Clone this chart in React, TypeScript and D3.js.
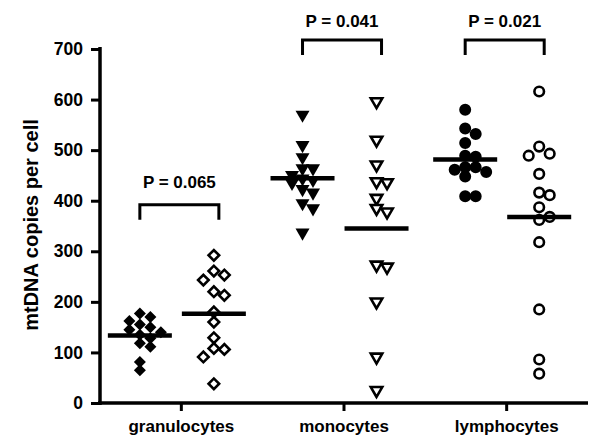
import React, { useEffect, useRef } from "react";
import * as d3 from "d3";

const categories = ["granulocytes", "monocytes", "lymphocytes"];
const pLabels = ["P = 0.065", "P = 0.041", "P = 0.021"];
const yTicks = [0, 100, 200, 300, 400, 500, 600, 700];

// filled (left) and open (right) series per cell type
const granulocytesFilled = [177, 170, 162, 155, 150, 145, 140, 135, 128, 118, 111, 81, 65];
const granulocytesOpen = [292, 261, 253, 243, 220, 213, 180, 160, 129, 108, 106, 91, 38];
const monocytesFilled = [570, 510, 486, 464, 464, 451, 444, 441, 435, 423, 416, 395, 385, 337];
const monocytesOpen = [596, 520, 471, 438, 436, 405, 385, 378, 273, 269, 200, 91, 25];
const lymphocytesFilled = [580, 543, 532, 514, 489, 487, 466, 466, 461, 457, 448, 409, 409];
const lymphocytesOpen = [616, 507, 493, 489, 453, 416, 411, 387, 368, 362, 318, 185, 86, 58];

const filledSeries = [granulocytesFilled, monocytesFilled, lymphocytesFilled];
const openSeries = [granulocytesOpen, monocytesOpen, lymphocytesOpen];

const FONT = "'Liberation Sans', Arial, sans-serif";

// simple column-scatter placement: spread colliding points sideways
function swarm(values: number[], y: (v: number) => number, cx: number, step: number, minDist: number) {
  const placed: [number, number][] = [];
  const sorted = values.slice().sort((a, b) => b - a);
  const offsets = [0, 1, -1, 2, -2, 3, -3];
  sorted.forEach((v) => {
    const py = y(v);
    let px = cx;
    for (const k of offsets) {
      const tx = cx + k * step;
      if (placed.every((p) => Math.hypot(p[0] - tx, p[1] - py) >= minDist)) {
        px = tx;
        break;
      }
    }
    placed.push([px, py]);
  });
  return placed;
}

export default function App() {
  const ref = useRef<SVGSVGElement>(null);

  useEffect(() => {
    const svg = d3.select(ref.current);
    svg.selectAll("*").remove();

    const width = 600;
    const height = 446;
    svg.append("rect").attr("width", width).attr("height", height).attr("fill", "#fff");

    const y = d3.scaleLinear().domain([0, 700]).range([403, 49]);
    const x = d3.scaleBand().domain(categories).range([100, 588]).padding(0);
    const sub = d3.scalePoint().domain(["filled", "open"]).range([x.bandwidth() * 0.245, x.bandwidth() * 0.7]);

    // y axis
    const yAxis = svg.append("g")
      .attr("transform", "translate(100,0)")
      .call(d3.axisLeft(y).tickValues(yTicks).tickSize(9).tickSizeOuter(0).tickPadding(8));
    yAxis.select(".domain").attr("stroke", "#000").attr("stroke-width", 3.5).attr("d", "M0,47V405");
    yAxis.selectAll(".tick line").attr("stroke", "#000").attr("stroke-width", 3);
    yAxis.selectAll(".tick text")
      .attr("fill", "#000")
      .style("font", `bold 17.5px ${FONT}`);

    // x axis
    const xAxis = svg.append("g")
      .attr("transform", "translate(0,403)")
      .call(d3.axisBottom(x).tickSize(8).tickSizeOuter(0).tickPadding(9));
    xAxis.select(".domain").attr("stroke", "#000").attr("stroke-width", 3.5).attr("d", "M98,0H588");
    xAxis.selectAll(".tick line").attr("stroke", "#000").attr("stroke-width", 3);
    xAxis.selectAll(".tick text")
      .attr("fill", "#000")
      .style("font", `bold 17px ${FONT}`);

    // y title
    svg.append("text")
      .attr("transform", "translate(31,225) rotate(-90)")
      .attr("text-anchor", "middle")
      .attr("dominant-baseline", "central")
      .style("font", `bold 20px ${FONT}`)
      .text("mtDNA copies per cell");

    const symbols = [d3.symbolSquare, d3.symbolTriangle, d3.symbolCircle];
    const filledSize = [72, 85, 113];
    const openSize = [56, 57, 72];
    const rotate = [45, 180, 0];

    const plot = svg.append("g");

    categories.forEach((cat, i) => {
      const x0 = x(cat) as number;
      const groups = [
        { key: "filled", values: filledSeries[i], fill: "#000", stroke: "none", size: filledSize[i] },
        { key: "open", values: openSeries[i], fill: "#fff", stroke: "#000", size: openSize[i] },
      ];

      groups.forEach((g) => {
        const cx = x0 + (sub(g.key) as number);
        const pts = swarm(g.values, y, cx, 10.5, g.key === "filled" ? 8 : 10);
        const sym = d3.symbol().type(symbols[i]).size(g.size);

        plot.append("g")
          .selectAll("path")
          .data(pts)
          .join("path")
          .attr("d", sym())
          .attr("transform", (d) => `translate(${d[0]},${d[1]}) rotate(${rotate[i]})`)
          .attr("fill", g.fill)
          .attr("stroke", g.stroke)
          .attr("stroke-width", g.stroke === "none" ? 0 : 2.6);

        const m = d3.mean(g.values) as number;
        plot.append("line")
          .attr("x1", cx - 32)
          .attr("x2", cx + 32)
          .attr("y1", y(m))
          .attr("y2", y(m))
          .attr("stroke", "#000")
          .attr("stroke-width", 4.5);
      });

      // significance bracket
      const bracketLevel = i === 0 ? 392 : 718;
      const xl = x0 + (sub("filled") as number);
      const xr = x0 + (sub("open") as number) + 5;
      const top = y(bracketLevel);
      svg.append("path")
        .attr("d", `M${xl},${top + 15}V${top}H${xr}V${top + 15}`)
        .attr("fill", "none")
        .attr("stroke", "#000")
        .attr("stroke-width", 3);
      svg.append("text")
        .attr("x", (xl + xr) / 2)
        .attr("y", top - (i === 0 ? 17 : 13))
        .attr("text-anchor", "middle")
        .style("font", `bold 17px ${FONT}`)
        .text(pLabels[i]);
    });
  }, []);

  return (
    <svg
      ref={ref}
      width={600}
      height={446}
      style={{ position: "absolute", left: 0, top: 0, display: "block" }}
    />
  );
}
